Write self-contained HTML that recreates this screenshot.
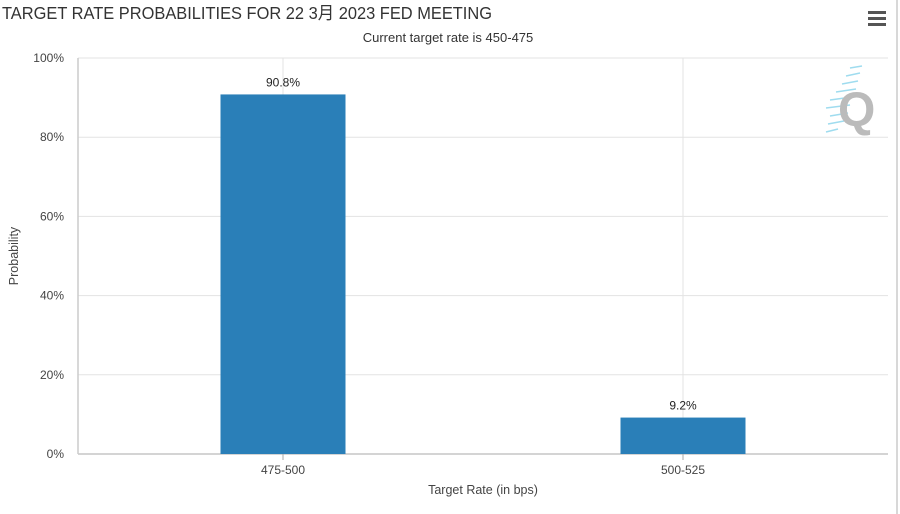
<!DOCTYPE html>
<html><head><meta charset="utf-8"><style>
body{margin:0;background:#fff;width:900px;height:514px;overflow:hidden}
svg{display:block}
text{font-family:"Liberation Sans","Noto Sans CJK SC",sans-serif}
</style></head><body>
<svg id="c" width="900" height="514">
<line x1="897" y1="0" x2="897" y2="514" stroke="#ccc" stroke-width="1.5"/>
<text x="2" y="19" font-size="17.5" fill="#333" textLength="490" lengthAdjust="spacingAndGlyphs">TARGET RATE PROBABILITIES FOR 22 3月 2023 FED MEETING</text>
<text x="448" y="42" font-size="13" fill="#333" text-anchor="middle">Current target rate is 450-475</text>
<g><rect x="868" y="11" width="18" height="3" fill="#555"/><rect x="868" y="17" width="18" height="3" fill="#555"/><rect x="868" y="23" width="18" height="3" fill="#555"/></g>
<g id="grid"></g>
<g>
<g stroke="#9fdcef" stroke-width="1.5"><line x1="850" y1="68" x2="862" y2="66"/><line x1="846" y1="76" x2="860" y2="73"/><line x1="842" y1="84" x2="858" y2="81"/><line x1="836" y1="92" x2="856" y2="89"/><line x1="830" y1="100" x2="852" y2="97"/><line x1="826" y1="108" x2="850" y2="105"/><line x1="830" y1="116" x2="848" y2="113"/><line x1="828" y1="124" x2="844" y2="121"/><line x1="826" y1="132" x2="838" y2="129"/></g>
<text x="838" y="126" font-size="48" font-weight="bold" fill="#bbb">Q</text></g>
<g id="bars"></g>
<text x="18" y="256" font-size="12.5" fill="#444" text-anchor="middle" transform="rotate(-90 18 256)">Probability</text>
<text x="483" y="494" font-size="12.5" fill="#444" text-anchor="middle">Target Rate (in bps)</text>
</svg>
<script>
const categories=["475-500","500-525"];
const values=[90.8,9.2];
const yTicks=[0,20,40,60,80,100];
const NS="http://www.w3.org/2000/svg";
const L=78,R=888,T=58,B=454;
const y=v=>B-(B-T)*v/100;
const x=i=>283+400*i;
function mk(tag,a,parent){const e=document.createElementNS(NS,tag);for(const k in a)e.setAttribute(k,a[k]);parent.appendChild(e);return e;}
const g=document.getElementById('grid'),bg=document.getElementById('bars');
yTicks.forEach(t=>{
 const ln=mk('line',{x1:L,x2:R,y1:y(t),y2:y(t),stroke:t===0?'#aaa':'#e3e3e3','stroke-width':1},g);
 
 
 const tx=mk('text',{x:L-14,y:y(t)+4,'font-size':12,fill:'#444','text-anchor':'end'},g);tx.textContent=t+'%';
 
 
});
const ax=mk('line',{x1:L,x2:L,y1:T,y2:B,stroke:'#ccc','stroke-width':1.5},g);


categories.forEach((c,i)=>{
 const vl=mk('line',{x1:x(i),x2:x(i),y1:T,y2:B,stroke:'#e3e3e3','stroke-width':1},g);
 
 
 const tk=mk('line',{x1:x(i),x2:x(i),y1:B,y2:B+6,stroke:'#aaa'},g);
 
 
 const tl=mk('text',{x:x(i),y:B+20,'font-size':12,fill:'#444','text-anchor':'middle'},g);tl.textContent=c;
 
 
 const r=mk('rect',{x:x(i)-62.5,y:y(values[i]),width:125,height:B-y(values[i]),fill:'#2a7fb8'},bg);
 
 
 const lb=mk('text',{x:x(i),y:y(values[i])-8,'font-size':12,fill:'#222','text-anchor':'middle'},bg);lb.textContent=values[i]+'%';
 
 
});
</script>
</body></html>
